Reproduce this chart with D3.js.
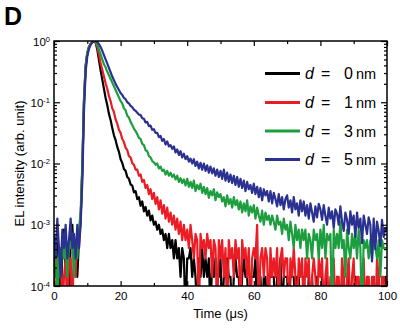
<!DOCTYPE html>
<html><head><meta charset="utf-8">
<script src="https://cdn.jsdelivr.net/npm/d3@7"></script>
<style>
body{margin:0;background:#fff}
svg{display:block}
text{font-family:Arial,"Liberation Sans",sans-serif;fill:#000}
</style>
</head><body>
<svg id="chart" width="400" height="328"></svg>
<script>
// ---- data (log10 of EL intensity, sampled every 0.5 us from 0 to 100 us) ----
const thickness = [0, 1, 3, 5];
const seriesColors = ["#000000", "#ec1c24", "#1c9e3e", "#2a3190"];
const xTickValues = [0, 20, 40, 60, 80, 100];
const xMinorValues = [10, 30, 50, 70, 90];
const yTickExponents = [-4, -3, -2, -1, 0];
const time = d3.range(0, 100.001, 0.5);

const logI_d0 = [
-3.55,-3.85,-3.25,-3.55,-4.5,-3.38,-3.08,-3.85,-3.55,-4.5,
-3.25,-3.0,-3.55,-3.38,-3.85,-3.25,-2.9,-2.1,-1.0,-0.42,
-0.2,-0.1,-0.05,-0.02,0,-0.03,-0.14,-0.31,-0.48,-0.63,
-0.78,-0.93,-1.05,-1.19,-1.29,-1.42,-1.54,-1.62,-1.73,-1.81,
-1.93,-1.99,-2.09,-2.12,-2.22,-2.25,-2.34,-2.36,-2.47,-2.45,
-2.58,-2.55,-2.69,-2.62,-2.78,-2.71,-2.85,-2.77,-2.93,-2.85,
-3.0,-2.95,-3.08,-3.0,-3.15,-3.08,-3.25,-3.15,-3.38,-3.15,
-3.38,-3.25,-3.55,-3.25,-3.55,-3.38,-3.85,-3.38,-3.55,-4.5,
-3.55,-3.55,-3.38,-3.85,-3.55,-3.85,-4.5,-3.55,-3.85,-3.38,
-3.85,-3.55,-3.85,-3.55,-4.5,-3.55,-3.85,-3.55,-3.85,-3.85,
-3.55,-4.5,-3.85,-3.85,-3.55,-3.85,-3.85,-4.5,-3.85,-3.55,
-3.85,-3.85,-4.5,-3.85,-3.55,-3.85,-3.85,-4.5,-3.85,-3.85,
-3.85,-3.55,-4.5,-3.85,-3.85,-4.5,-3.85,-3.85,-4.5,-3.85,
-3.85,-3.85,-3.85,-4.5,-3.85,-3.85,-3.55,-4.5,-3.85,-3.85,
-3.85,-4.5,-3.85,-3.85,-3.85,-4.5,-3.85,-3.85,-4.5,-4.5,
-3.85,-4.5,-4.5,-3.85,-4.5,-3.85,-4.5,-4.5,-3.85,-4.5,
-4.5,-3.85,-4.5,-4.5,-3.85,-4.5,-4.5,-3.85,-4.5,-4.5,
-3.85,-4.5,-4.5,-4.5,-3.85,-4.5,-4.5,-3.85,-4.5,-4.5,
-4.5,-3.85,-4.5,-4.5,-4.5,-3.85,-4.5,-4.5,-3.85,-4.5,
-4.5,-4.5,-3.85,-4.5,-4.5,-3.85,-4.5,-4.5,-4.5,-3.85,
-4.5];

const logI_d1 = [
-3.85,-4.5,-3.55,-3.85,-3.38,-4.5,-3.85,-3.55,-4.5,-3.55,
-3.55,-4.5,-3.25,-3.85,-3.08,-3.38,-2.9,-2.1,-1.0,-0.42,
-0.2,-0.1,-0.05,-0.02,0,-0.02,-0.1,-0.22,-0.36,-0.47,
-0.58,-0.69,-0.78,-0.9,-0.98,-1.1,-1.16,-1.28,-1.35,-1.45,
-1.5,-1.6,-1.65,-1.74,-1.78,-1.88,-1.9,-1.99,-2.02,-2.1,
-2.1,-2.2,-2.18,-2.3,-2.27,-2.4,-2.35,-2.5,-2.42,-2.58,
-2.48,-2.66,-2.55,-2.75,-2.6,-2.82,-2.68,-2.9,-2.72,-2.95,
-2.8,-3.0,-2.85,-3.08,-2.9,-3.15,-2.95,-3.25,-3.0,-3.25,
-3.08,-3.38,-3.0,-3.25,-3.55,-3.15,-3.25,-4.5,-3.15,-3.38,
-3.25,-3.55,-3.15,-3.38,-3.25,-3.85,-3.25,-3.38,-4.5,-3.25,
-3.55,-3.25,-3.85,-3.38,-4.5,-3.25,-3.55,-3.38,-3.85,-3.25,
-3.55,-3.38,-4.5,-3.25,-3.55,-3.38,-3.85,-3.38,-4.5,-3.55,
-3.38,-3.55,-3.0,-4.5,-3.55,-3.38,-3.85,-3.38,-3.55,-4.5,
-3.38,-3.85,-3.55,-3.85,-3.38,-4.5,-3.55,-3.38,-3.85,-3.55,
-3.55,-4.5,-3.55,-3.85,-3.38,-3.85,-4.5,-3.55,-3.85,-3.55,
-4.5,-3.55,-3.85,-3.55,-4.5,-3.85,-3.55,-3.85,-4.5,-3.55,
-3.85,-3.55,-4.5,-3.85,-3.55,-4.5,-3.85,-3.85,-3.55,-4.5,
-3.85,-3.85,-4.5,-3.55,-3.85,-4.5,-3.85,-3.55,-4.5,-3.85,
-3.55,-4.5,-3.85,-3.85,-4.5,-3.85,-3.55,-4.5,-3.85,-3.85,
-4.5,-3.85,-3.85,-4.5,-3.55,-3.85,-4.5,-3.85,-3.85,-4.5,
-3.85];

const logI_d3 = [
-3.55,-3.25,-4.5,-3.38,-3.85,-3.15,-3.55,-3.38,-3.85,-3.25,
-3.38,-3.15,-3.85,-3.25,-3.55,-3.08,-2.8,-2.0,-0.95,-0.4,
-0.19,-0.1,-0.05,-0.02,0,-0.01,-0.06,-0.14,-0.22,-0.3,
-0.38,-0.43,-0.5,-0.56,-0.62,-0.68,-0.74,-0.8,-0.86,-0.92,
-0.98,-1.02,-1.1,-1.13,-1.22,-1.25,-1.32,-1.37,-1.43,-1.47,
-1.52,-1.58,-1.6,-1.68,-1.7,-1.78,-1.8,-1.88,-1.9,-1.96,
-1.98,-2.02,-2.0,-2.08,-2.05,-2.12,-2.1,-2.18,-2.12,-2.2,
-2.15,-2.22,-2.18,-2.26,-2.2,-2.3,-2.24,-2.32,-2.26,-2.36,
-2.25,-2.38,-2.3,-2.4,-2.28,-2.45,-2.35,-2.42,-2.33,-2.48,
-2.38,-2.5,-2.4,-2.56,-2.45,-2.52,-2.42,-2.6,-2.47,-2.55,
-2.5,-2.62,-2.55,-2.7,-2.52,-2.66,-2.58,-2.72,-2.55,-2.68,
-2.6,-2.75,-2.62,-2.8,-2.65,-2.78,-2.6,-2.85,-2.7,-2.8,
-2.68,-2.9,-2.72,-2.85,-2.95,-2.77,-3.0,-2.8,-2.92,-2.85,
-3.0,-2.85,-2.95,-3.08,-2.85,-3.0,-2.95,-3.15,-2.9,-3.08,
-3.0,-3.25,-2.95,-3.15,-3.38,-3.0,-3.25,-3.08,-3.38,-3.08,
-3.25,-3.08,-3.55,-3.15,-3.25,-3.55,-3.08,-3.25,-3.15,-3.55,
-3.08,-3.38,-3.0,-3.55,-3.15,-3.25,-3.15,-4.5,-3.08,-3.38,
-3.15,-3.38,-2.95,-3.38,-3.25,-3.85,-3.08,-3.38,-3.55,-3.15,
-3.38,-3.15,-3.55,-3.08,-3.38,-4.5,-3.25,-3.38,-3.25,-3.55,
-3.25,-3.55,-3.15,-3.38,-3.55,-3.25,-3.85,-3.25,-3.38,-3.38,
-3.38];

const logI_d5 = [
-3.15,-3.55,-2.9,-3.38,-3.85,-3.08,-3.38,-3.0,-3.55,-3.25,
-2.9,-3.38,-3.15,-3.55,-3.0,-3.38,-3.0,-2.3,-1.15,-0.5,
-0.25,-0.13,-0.06,-0.025,-0.005,0,-0.015,-0.05,-0.1,-0.16,
-0.23,-0.3,-0.37,-0.44,-0.51,-0.58,-0.64,-0.7,-0.75,-0.8,
-0.85,-0.88,-0.93,-0.95,-1.0,-1.02,-1.06,-1.08,-1.12,-1.14,
-1.17,-1.2,-1.21,-1.26,-1.27,-1.33,-1.32,-1.39,-1.38,-1.45,
-1.44,-1.5,-1.5,-1.57,-1.55,-1.63,-1.6,-1.69,-1.64,-1.72,
-1.7,-1.76,-1.72,-1.82,-1.77,-1.86,-1.8,-1.9,-1.84,-1.93,
-1.88,-1.97,-1.92,-2.0,-1.93,-2.04,-1.97,-2.08,-1.99,-2.1,
-2.0,-2.12,-2.03,-2.15,-2.05,-2.16,-2.08,-2.2,-2.1,-2.22,
-2.12,-2.25,-2.1,-2.28,-2.15,-2.3,-2.18,-2.32,-2.2,-2.35,
-2.22,-2.38,-2.25,-2.4,-2.28,-2.45,-2.3,-2.42,-2.35,-2.48,
-2.33,-2.5,-2.38,-2.55,-2.4,-2.6,-2.42,-2.52,-2.45,-2.62,
-2.45,-2.65,-2.48,-2.58,-2.7,-2.5,-2.68,-2.55,-2.75,-2.58,
-2.52,-2.72,-2.6,-2.8,-2.55,-2.75,-2.65,-2.85,-2.6,-2.78,
-2.62,-2.85,-2.68,-2.9,-2.65,-2.8,-2.95,-2.7,-2.88,-2.66,
-2.75,-2.92,-2.68,-2.85,-3.0,-2.72,-2.9,-2.78,-3.05,-2.75,
-2.82,-3.0,-2.7,-2.95,-3.1,-2.8,-2.92,-3.15,-2.78,-3.0,
-2.85,-3.2,-2.8,-3.05,-2.9,-3.3,-2.85,-3.0,-3.15,-2.88,
-3.0,-3.6,-2.9,-3.4,-2.95,-3.1,-3.35,-2.92,-3.2,-3.05,
-3.1];

const seriesLogValues = [logI_d0, logI_d1, logI_d3, logI_d5];

// ---- layout ----
const svg = d3.select("#chart");
const L = 54, R = 387, T = 41, B = 286;
const x = d3.scaleLinear().domain([0, 100]).range([L, R]);
const y = d3.scaleLog().domain([1e-4, 1]).range([B, T]);

svg.append("defs").append("clipPath").attr("id", "plotclip")
  .append("rect").attr("x", L).attr("y", T).attr("width", R - L).attr("height", B - T);

// curves
const line = d3.line()
  .x((d, i) => x(time[i]))
  .y(d => y(Math.pow(10, d)));

const plot = svg.append("g").attr("clip-path", "url(#plotclip)");
seriesLogValues.forEach((vals, k) => {
  plot.append("path")
    .attr("d", line(vals))
    .attr("fill", "none")
    .attr("stroke", seriesColors[k])
    .attr("stroke-width", 2.2)
    .attr("stroke-linejoin", "round");
});

// minor log ticks
const yMinor = [];
yTickExponents.slice(0, -1).forEach(e => { for (let m = 2; m <= 9; m++) yMinor.push(m * Math.pow(10, e)); });
const yMajor = yTickExponents.map(e => Math.pow(10, e));

function styleAxis(g) {
  g.select(".domain").remove();
  g.selectAll(".tick line").attr("stroke", "#000").attr("stroke-width", 1.2);
}

// bottom
svg.append("g").attr("transform", `translate(0,${B})`)
  .call(d3.axisBottom(x).tickValues(xTickValues).tickSize(-5).tickPadding(6))
  .call(styleAxis)
  .call(g => g.selectAll("text").attr("font-size", 11.5).attr("font-family", "Arial, 'Liberation Sans', sans-serif"));
svg.append("g").attr("transform", `translate(0,${B})`)
  .call(d3.axisBottom(x).tickValues(xMinorValues).tickSize(-3).tickFormat(""))
  .call(styleAxis);
// top
svg.append("g").attr("transform", `translate(0,${T})`)
  .call(d3.axisTop(x).tickValues(xTickValues).tickSize(-5).tickFormat(""))
  .call(styleAxis);
svg.append("g").attr("transform", `translate(0,${T})`)
  .call(d3.axisTop(x).tickValues(xMinorValues).tickSize(-3).tickFormat(""))
  .call(styleAxis);
// left
const leftAxis = svg.append("g").attr("transform", `translate(${L},0)`)
  .call(d3.axisLeft(y).tickValues(yMajor).tickSize(-6).tickPadding(4).tickFormat(""))
  .call(styleAxis);
leftAxis.selectAll(".tick text").each(function(d) {
  const t = d3.select(this).attr("font-size", 11.5).attr("font-family", "Arial, 'Liberation Sans', sans-serif").attr("dy", "0.36em");
  t.append("tspan").text("10");
  t.append("tspan").attr("dy", "-0.55em").attr("font-size", 7.5).text(String(Math.round(Math.log10(d))));
});
svg.append("g").attr("transform", `translate(${L},0)`)
  .call(d3.axisLeft(y).tickValues(yMinor).tickSize(-3).tickFormat(""))
  .call(styleAxis);
// right
svg.append("g").attr("transform", `translate(${R},0)`)
  .call(d3.axisRight(y).tickValues(yMajor).tickSize(-6).tickFormat(""))
  .call(styleAxis);
svg.append("g").attr("transform", `translate(${R},0)`)
  .call(d3.axisRight(y).tickValues(yMinor).tickSize(-3).tickFormat(""))
  .call(styleAxis);

// frame
svg.append("rect").attr("x", L).attr("y", T).attr("width", R - L).attr("height", B - T)
  .attr("fill", "none").attr("stroke", "#000").attr("stroke-width", 1.5);

// axis titles
svg.append("text").attr("x", (L + R) / 2).attr("y", 318).attr("text-anchor", "middle")
  .attr("font-size", 13).text("Time (μs)");
svg.append("text").attr("transform", `translate(24,${(T + B) / 2}) rotate(-90)`)
  .attr("text-anchor", "middle").attr("font-size", 13).text("EL intensity (arb. unit)");

// panel label
svg.append("text").attr("x", 4).attr("y", 25).attr("font-size", 25).attr("font-weight", "bold").text("D");

// legend
const legendY = [73.5, 102.5, 131, 159.5];
thickness.forEach((d, k) => {
  const g = svg.append("g");
  g.append("line").attr("x1", 265).attr("x2", 300).attr("y1", legendY[k]).attr("y2", legendY[k])
    .attr("stroke", seriesColors[k]).attr("stroke-width", 3);
  const t = g.append("text").attr("y", legendY[k] + 5.8).attr("font-size", 16);
  t.append("tspan").attr("x", 305).attr("font-style", "italic").text("d");
  t.append("tspan").attr("x", 321).text("=");
  t.append("tspan").attr("x", 344).attr("text-anchor", "start").text(String(d));
  t.append("tspan").attr("x", 356).attr("font-size", 14.5).text("nm");
});
</script>
</body></html>
